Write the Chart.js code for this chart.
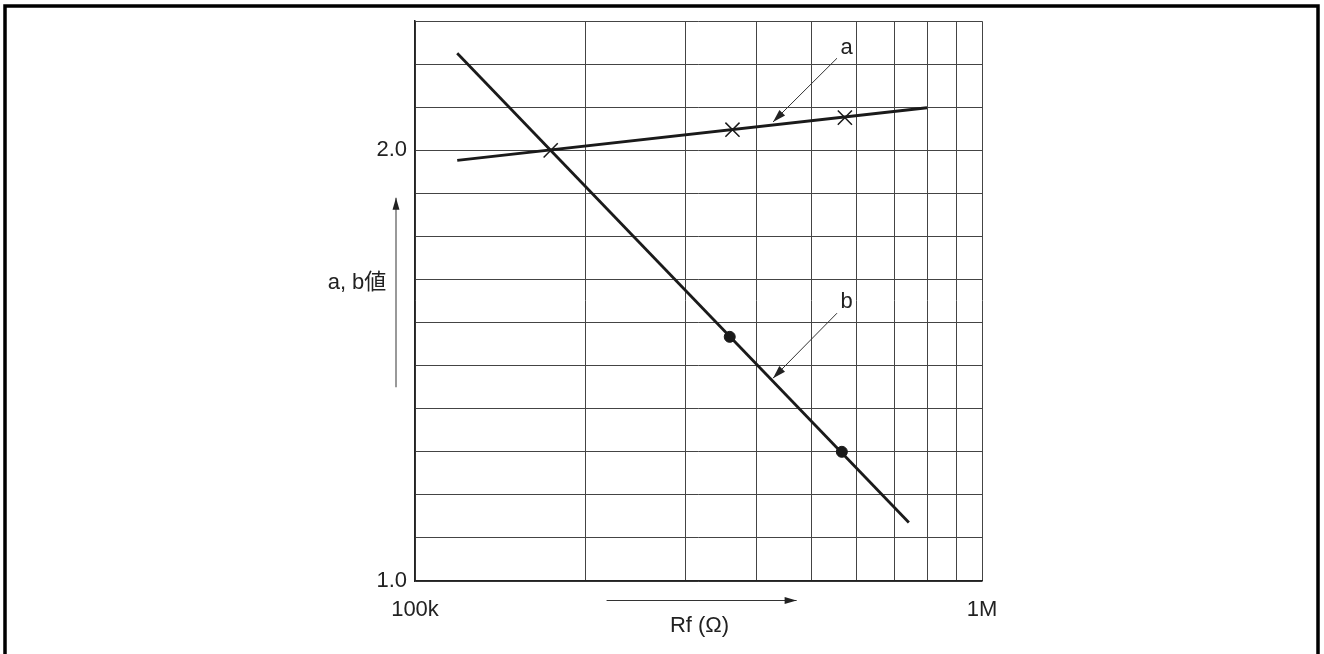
<!DOCTYPE html>
<html>
<head>
<meta charset="utf-8">
<script src="https://cdn.jsdelivr.net/npm/chart.js@4/dist/chart.umd.min.js"></script>
<style>
  html, body { margin: 0; padding: 0; background: #fff; }
  canvas { display: block; }
</style>
</head>
<body>
<canvas id="c" width="1324" height="654"></canvas>
<script>
// ---- data ----
const xTickValues = [100000, 200000, 300000, 400000, 500000, 600000, 700000, 800000, 900000, 1000000];
const xTickLabels = ['100k', '', '', '', '', '', '', '', '', '1M'];
const yTickValues = [1.0, 1.1, 1.2, 1.3, 1.4, 1.5, 1.6, 1.7, 1.8, 1.9, 2.0, 2.1, 2.2, 2.3];
const yTickLabels = ['1.0', '', '', '', '', '', '', '', '', '', '2.0', '', '', ''];

// line a (endpoints) and its marked points
const aLineX = [118700, 800000];
const aLineY = [1.977, 2.099];
const aMarkX = [173500, 363000, 573000];
const aMarkY = [2.0, 2.048, 2.076];

// line b (endpoints) and its marked points
const bLineX = [118700, 743000];
const bLineY = [2.2255, 1.136];
const bMarkX = [359000, 566000];
const bMarkY = [1.567, 1.30];

// annotation labels and leader arrows (data coordinates)
const annLabels = ['a', 'b'];
const annLabelX = [577000, 577000];
const annLabelY = [2.239, 1.648];
const annFromX = [555000, 555000];
const annFromY = [2.214, 1.622];
const annToX = [428000, 428000];
const annToY = [2.066, 1.471];

const yTitle = 'a, b値';
const xTitle = 'Rf (Ω)';

const pts = (xs, ys) => xs.map((x, i) => ({ x: x, y: ys[i] }));

const FONT = '"Liberation Sans", Arial, "Noto Sans CJK JP", sans-serif';
const INK = '#1a1a1a';

function arrowHead(ctx, x1, y1, x2, y2, len, half) {
  const ang = Math.atan2(y2 - y1, x2 - x1);
  ctx.beginPath();
  ctx.moveTo(x2, y2);
  ctx.lineTo(x2 - len * Math.cos(ang) + half * Math.sin(ang), y2 - len * Math.sin(ang) - half * Math.cos(ang));
  ctx.lineTo(x2 - len * Math.cos(ang) - half * Math.sin(ang), y2 - len * Math.sin(ang) + half * Math.cos(ang));
  ctx.closePath();
  ctx.fill();
}

const decorPlugin = {
  id: 'decor',
  beforeDraw(chart) {
    const ctx = chart.ctx;
    ctx.save();
    ctx.fillStyle = '#fff';
    ctx.fillRect(0, 0, chart.width, chart.height);
    ctx.strokeStyle = '#000';
    ctx.lineWidth = 3.5;
    ctx.strokeRect(5, 6, 1313, 700);
    ctx.restore();
  },
  afterDraw(chart) {
    const ctx = chart.ctx;
    const xs = chart.scales.x, ys = chart.scales.y;
    const ca = chart.chartArea;
    ctx.save();
    ctx.font = '22px ' + FONT;
    ctx.fillStyle = '#222';
    ctx.strokeStyle = '#333';
    ctx.textAlign = 'center';
    ctx.textBaseline = 'middle';
    // annotation labels with leader arrows
    for (let i = 0; i < annLabels.length; i++) {
      const lx = xs.getPixelForValue(annLabelX[i]), ly = ys.getPixelForValue(annLabelY[i]);
      ctx.fillText(annLabels[i], lx, ly);
      const fx = xs.getPixelForValue(annFromX[i]), fy = ys.getPixelForValue(annFromY[i]);
      const tx = xs.getPixelForValue(annToX[i]), ty = ys.getPixelForValue(annToY[i]);
      ctx.lineWidth = 1;
      ctx.beginPath();
      ctx.moveTo(fx, fy);
      ctx.lineTo(tx, ty);
      ctx.stroke();
      arrowHead(ctx, fx, fy, tx, ty, 13, 4);
    }
    // y title with upward arrow
    ctx.fillText(yTitle, ca.left - 58, ys.getPixelForValue(1.692));
    const yax = ca.left - 19;
    const yb = ys.getPixelForValue(1.45), yt = ys.getPixelForValue(1.89);
    ctx.strokeStyle = '#555';
    ctx.lineWidth = 1.2;
    ctx.beginPath(); ctx.moveTo(yax, yb); ctx.lineTo(yax, yt); ctx.stroke();
    ctx.fillStyle = '#222';
    arrowHead(ctx, yax, yb, yax, yt, 12, 3.5);
    // x title with rightward arrow
    const xa1 = xs.getPixelForValue(217700), xa2 = xs.getPixelForValue(471000);
    const yay = ca.bottom + 19.5;
    ctx.strokeStyle = '#333';
    ctx.lineWidth = 1.2;
    ctx.beginPath(); ctx.moveTo(xa1, yay); ctx.lineTo(xa2, yay); ctx.stroke();
    arrowHead(ctx, xa1, yay, xa2, yay, 12, 3.5);
    ctx.fillStyle = '#222';
    ctx.fillText(xTitle, (ca.left + ca.right) / 2 + 1, ca.bottom + 45);
    ctx.restore();
  }
};

new Chart(document.getElementById('c'), {
  type: 'scatter',
  data: {
    datasets: [
      { data: pts(aLineX, aLineY), showLine: true, borderColor: INK, borderWidth: 2.8, pointRadius: 0, fill: false },
      { data: pts(bLineX, bLineY), showLine: true, borderColor: INK, borderWidth: 2.8, pointRadius: 0, fill: false },
      { data: pts(aMarkX, aMarkY), showLine: false, pointStyle: 'crossRot', pointRadius: 10, borderColor: INK, borderWidth: 1.5 },
      { data: pts(bMarkX, bMarkY), showLine: false, pointStyle: 'circle', pointRadius: 5.5, backgroundColor: INK, borderColor: INK, borderWidth: 1 }
    ]
  },
  options: {
    responsive: false,
    animation: false,
    events: [],
    layout: { padding: { left: 0, right: 342, top: 21, bottom: 0 } },
    plugins: { legend: { display: false }, tooltip: { enabled: false } },
    scales: {
      x: {
        type: 'logarithmic',
        min: xTickValues[0],
        max: xTickValues[xTickValues.length - 1],
        afterBuildTicks: (s) => { s.ticks = xTickValues.map(v => ({ value: v })); },
        afterFit: (s) => { s.height = 73; },
        grid: { color: '#444', lineWidth: 1, drawTicks: false },
        border: { color: '#222', width: 1.5 },
        ticks: {
          autoSkip: false, maxRotation: 0, padding: 16,
          color: '#222', font: { family: FONT, size: 22 },
          callback: (v) => { const i = xTickValues.indexOf(v); return i >= 0 ? xTickLabels[i] : ''; }
        }
      },
      y: {
        type: 'linear',
        min: yTickValues[0],
        max: yTickValues[yTickValues.length - 1],
        afterBuildTicks: (s) => { s.ticks = yTickValues.map(v => ({ value: v })); },
        afterFit: (s) => { s.width = 415; },
        grid: { color: '#444', lineWidth: 1, drawTicks: false },
        border: { color: '#222', width: 1.5 },
        ticks: {
          autoSkip: false, padding: 8,
          color: '#222', font: { family: FONT, size: 22 },
          callback: (v) => {
            const i = yTickValues.findIndex(t => Math.abs(t - v) < 1e-6);
            return i >= 0 ? yTickLabels[i] : '';
          }
        }
      }
    }
  },
  plugins: [decorPlugin]
});
</script>
</body>
</html>
